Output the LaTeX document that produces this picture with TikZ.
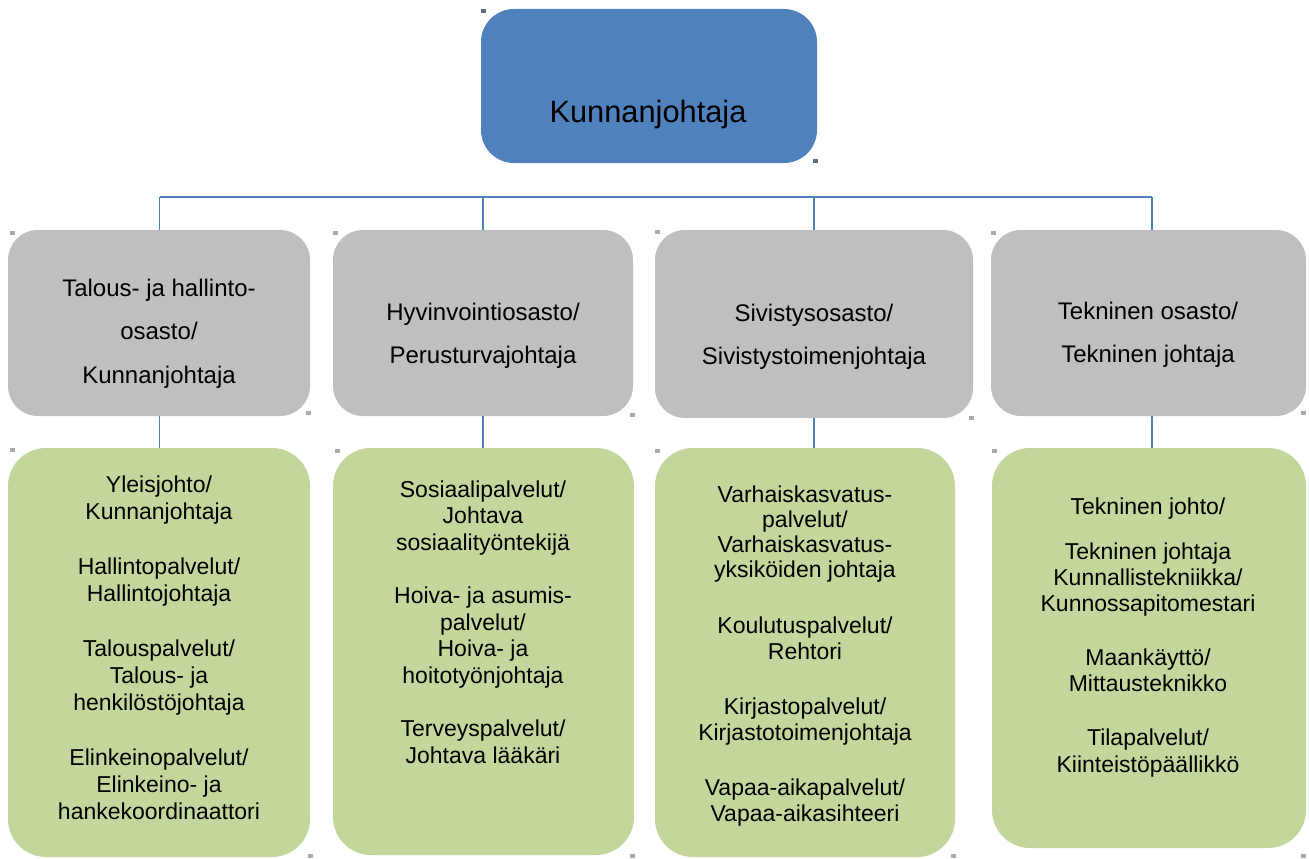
\documentclass[tikz,border=0pt]{standalone}
\usepackage{fontspec}
\setmainfont{Liberation Sans}
\definecolor{topblue}{HTML}{4F81BD}
\definecolor{boxgray}{HTML}{BFBFBF}
\definecolor{boxgreen}{HTML}{C3D69B}
\definecolor{linkblue}{HTML}{4F81BD}
\definecolor{handlegray}{HTML}{ABABAB}
\definecolor{handledark}{HTML}{5B6B88}
\newcommand{\boxlines}[1]{\begin{tabular}[t]{@{}c@{}}#1\end{tabular}}
\tikzset{
  topbox/.style={rectangle, rounded corners=33pt, fill=topblue, inner sep=0pt},
  graybox/.style={rectangle, rounded corners=30pt, fill=boxgray, inner sep=0pt},
  greenbox/.style={rectangle, rounded corners=38pt, fill=boxgreen, inner sep=0pt},
  link/.style={draw=linkblue, line width=1.2pt},
  txttop/.style={inner sep=0pt, anchor=base, font=\fontsize{30.8}{36}\selectfont},
  txtgray/.style={inner sep=0pt, anchor=base, font=\fontsize{24}{43.5}\selectfont},
  handle/.style={fill=handlegray, minimum width=5pt, minimum height=4pt, inner sep=0pt},
  handledk/.style={handle, fill=handledark},
}
\begin{document}
\begin{tikzpicture}[x=1pt,y=-1pt]
\useasboundingbox (0,0) rectangle (1309,859);
\fill[white] (0,0) rectangle (1309,859);

% top box
\node[topbox, minimum width=336pt, minimum height=154pt] (top) at (649,86) {};
\node[txttop] (toptext) at (648,122) {Kunnanjohtaja};

% gray department boxes
\node[graybox, minimum width=302pt, minimum height=186pt] (g1) at (159,323) {};
\node[graybox, minimum width=300pt, minimum height=186pt] (g2) at (483,323) {};
\node[graybox, minimum width=318pt, minimum height=188pt] (g3) at (814,324) {};
\node[graybox, minimum width=315pt, minimum height=186pt] (g4) at (1148.5,323) {};

% green service boxes
\node[greenbox, minimum width=302pt, minimum height=409pt] (r1) at (159,652.5) {};
\node[greenbox, minimum width=301pt, minimum height=407pt] (r2) at (483.5,651.5) {};
\node[greenbox, minimum width=300pt, minimum height=409pt] (r3) at (805,652.5) {};
\node[greenbox, minimum width=314pt, minimum height=400pt] (r4) at (1149,648) {};

% connectors
\coordinate (busL) at (159.5,197);
\coordinate (busR) at (1152,197);
\draw[link] (busL) -- (busR);
\draw[link] (busL) -- (busL |- g1.north);
\draw[link] (g2.north |- busL) -- (g2.north);
\draw[link] (g3.north |- busL) -- (g3.north);
\draw[link] (busR) -- (busR |- g4.north);
\draw[link] (busL |- g1.south) -- (busL |- r1.north);
\draw[link] (g2.south) -- (g2.south |- r2.north);
\draw[link] (g3.south) -- (g3.south |- r3.north);
\draw[link] (busR |- g4.south) -- (busR |- r4.north);

% gray texts
\node[txtgray] (g1t) at (159,296) {\boxlines{Talous- ja hallinto-\\osasto/\\Kunnanjohtaja}};
\node[txtgray] (g2t) at (483,320) {\boxlines{Hyvinvointiosasto/\\Perusturvajohtaja}};
\node[txtgray] (g3t) at (814,321) {\boxlines{Sivistysosasto/\\Sivistystoimenjohtaja}};
\node[txtgray] (g4t) at (1148,319) {\boxlines{Tekninen osasto/\\Tekninen johtaja}};

% green texts
\node[inner sep=0pt, anchor=base, font=\fontsize{23}{27}\selectfont] (r1t) at (159,492)
  {\boxlines{Yleisjohto/\\Kunnanjohtaja\\[28pt]
   Hallintopalvelut/\\Hallintojohtaja\\[28pt]
   Talouspalvelut/\\Talous- ja\\henkilöstöjohtaja\\[28pt]
   Elinkeinopalvelut/\\Elinkeino- ja\\hankekoordinaattori}};
\node[inner sep=0pt, anchor=base, font=\fontsize{23}{26.5}\selectfont] (r2t) at (483,497)
  {\boxlines{Sosiaalipalvelut/\\Johtava\\sosiaalityöntekijä\\[27pt]
   Hoiva- ja asumis-\\palvelut/\\Hoiva- ja\\hoitotyönjohtaja\\[27pt]
   Terveyspalvelut/\\Johtava lääkäri}};
\node[inner sep=0pt, anchor=base, font=\fontsize{23}{25.3}\selectfont] (r3t) at (805,502)
  {\boxlines{Varhaiskasvatus-\\palvelut/\\Varhaiskasvatus-\\yksiköiden johtaja\\[30.5pt]
   Koulutuspalvelut/\\Rehtori\\[30.5pt]
   Kirjastopalvelut/\\Kirjastotoimenjohtaja\\[30.5pt]
   Vapaa-aikapalvelut/\\Vapaa-aikasihteeri}};
\node[inner sep=0pt, anchor=base, font=\fontsize{23}{26.3}\selectfont] (r4t) at (1148,514)
  {\boxlines{Tekninen johto/\\[18.7pt]
   Tekninen johtaja\\Kunnallistekniikka/\\Kunnossapitomestari\\[27.7pt]
   Maankäyttö/\\Mittausteknikko\\[27.7pt]
   Tilapalvelut/\\Kiinteistöpäällikkö}};

% selection handles
\node[handledk] (hA) at (483,11) {};
\node[handledk] (hB) at (815,161) {};
\node[handle] (h1) at (12,233) {};
\node[handle] (h2) at (308,413) {};
\node[handle] (h3) at (335,233) {};
\node[handle] (h4) at (632,415) {};
\node[handle] (h5) at (657,232) {};
\node[handle] (h6) at (971,418) {};
\node[handle] (h7) at (993,233) {};
\node[handle] (h8) at (1303,413) {};
\node[handle] (h9) at (12,450) {};
\node[handle] (h10) at (310,856) {};
\node[handle] (h11) at (337,451) {};
\node[handle] (h12) at (632,856) {};
\node[handle] (h13) at (657,451) {};
\node[handle] (h14) at (953,856) {};
\node[handle] (h15) at (994,451) {};
\node[handle] (h16) at (1303,856) {};
\end{tikzpicture}
\end{document}
